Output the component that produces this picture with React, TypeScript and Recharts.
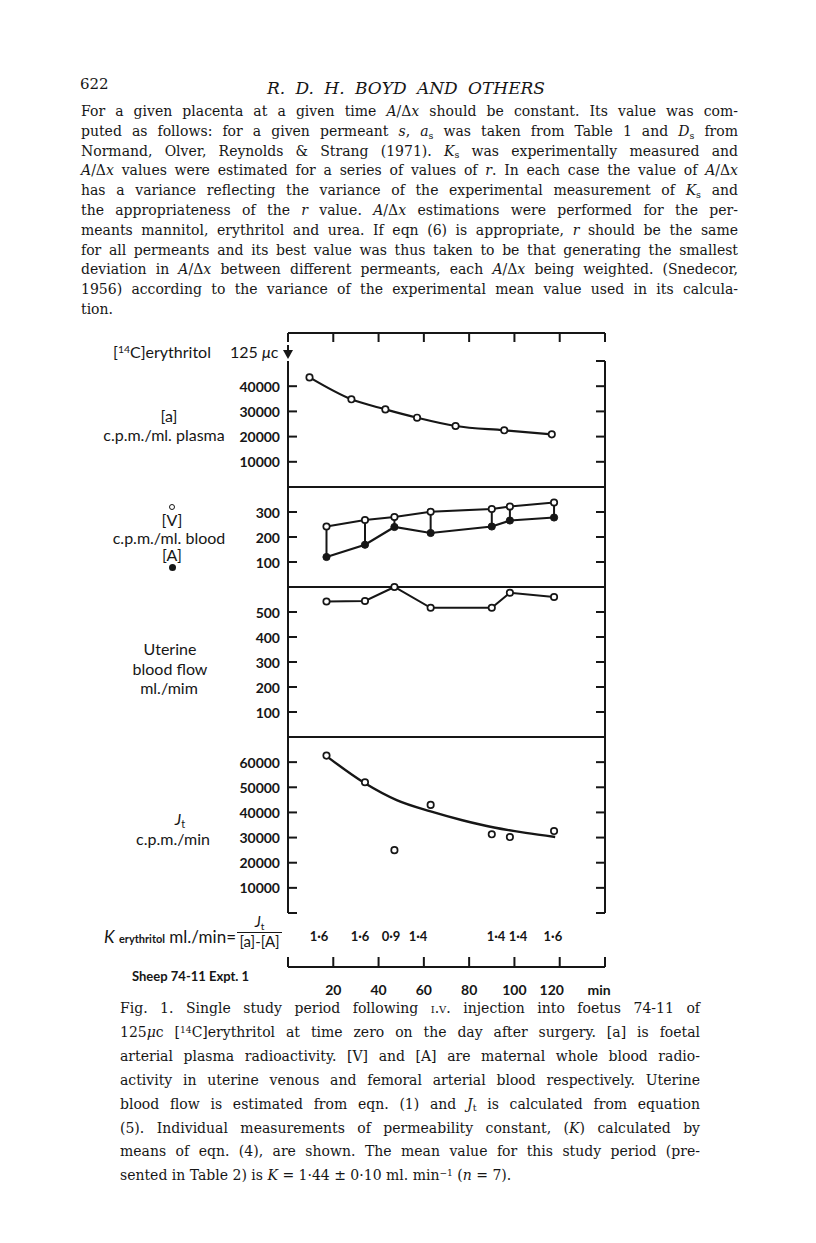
import React from 'react';
import { ComposedChart, Line, XAxis, YAxis, ReferenceLine, ReferenceDot } from 'recharts';

// time axis, minutes after injection
const timeTicks = [0, 20, 40, 60, 80, 100, 120, 140];
const timeTickLabels = ['', '20', '40', '60', '80', '100', '120', 'min'];
const injectionTime = 0;

// [a] foetal arterial plasma, c.p.m./ml.
const plasmaTimes = [9.5, 28, 43, 57, 74, 95.5, 116.5];
const plasmaCpm = [43500, 34800, 30800, 27500, 24200, 22500, 20900];

// maternal samples
const sampleTimes = [17, 34, 47, 63, 90, 98, 117.5];
const venousCpm = [242, 268, 280, 301, 312, 322, 338];
const arterialCpm = [120, 169, 240, 216, 242, 266, 278];
const uterineFlow = [542, 544, 600, 517, 517, 577, 560];
const jtCpm = [62600, 52000, 25000, 43000, 31300, 30200, 32600];

// smooth curve drawn through the Jt points
const jtCurveTimes = [18, 34, 48, 63, 77, 91, 105, 118];
const jtCurveCpm = [61700, 51600, 44900, 40400, 36900, 34000, 31850, 30250];

// K values printed under the panels
const kLabelTimes = [13.7, 31.8, 45.5, 57.4, 91.9, 101.6, 117];
const kValues = ['1·6', '1·6', '0·9', '1·4', '1·4', '1·4', '1·6'];

const plasmaTicks = [10000, 20000, 30000, 40000];
const plasmaRightTicks = [10000, 20000, 30000, 40000, 50000];
const bloodTicks = [100, 200, 300];
const flowTicks = [100, 200, 300, 400, 500];
const jtTicks = [0, 10000, 20000, 30000, 40000, 50000, 60000];

const plasmaData = plasmaTimes.map((t, i) => ({ t, v: plasmaCpm[i] }));
const venousData = sampleTimes.map((t, i) => ({ t, v: venousCpm[i] }));
const arterialData = sampleTimes.map((t, i) => ({ t, v: arterialCpm[i] }));
const flowData = sampleTimes.map((t, i) => ({ t, v: uterineFlow[i] }));
const jtData = sampleTimes.map((t, i) => ({ t, v: jtCpm[i] }));
const jtCurveData = jtCurveTimes.map((t, i) => ({ t, v: jtCurveCpm[i] }));

const SERIF = '"DejaVu Serif", serif';
const SANS = 'Lato, "Open Sans", sans-serif';
const INK = '#161616';
const PAGE_W = 816;
const PLOT_L = 288;
const PLOT_R = 605;
const AXIS = { stroke: INK, strokeWidth: 2 };

const openDot = { r: 3.2, stroke: INK, strokeWidth: 1.7, fill: '#fff' };
const solidDot = { r: 3.6, stroke: INK, strokeWidth: 1, fill: INK };

const LeftTick = (p: any) => {
  const { x, y, payload } = p;
  return (
    <g>
      <line x1={x} x2={x + 9} y1={y} y2={y} stroke={INK} strokeWidth={2} />
      {payload.value !== 0 && (
        <text x={x - 8} y={y} textAnchor="end" dominantBaseline="central" fontFamily={SANS} fontWeight={700} fontSize={14} fill={INK}>
          {payload.value}
        </text>
      )}
    </g>
  );
};

const RightTick = (p: any) => {
  const { x, y } = p;
  return <line x1={x} x2={x - 9} y1={y} y2={y} stroke={INK} strokeWidth={2} />;
};

const TopTick = (p: any) => {
  const { x, y } = p;
  return <line x1={x} x2={x} y1={y} y2={y + 9} stroke={INK} strokeWidth={2} />;
};

const BottomTick = (p: any) => {
  const { x, y, payload, index } = p;
  const dx = payload.value === 120 ? -8 : payload.value === 140 ? -6 : 0;
  return (
    <g>
      <line x1={x} x2={x} y1={y} y2={y - 10} stroke={INK} strokeWidth={2} />
      <text x={x + dx} y={y + 22} textAnchor="middle" dominantBaseline="central" fontFamily={SANS} fontWeight={700} fontSize={14} fill={INK}>
        {timeTickLabels[index]}
      </text>
    </g>
  );
};

const KTick = (p: any) => {
  const { x, y, index } = p;
  return (
    <text x={x} y={y} textAnchor="middle" dominantBaseline="central" fontFamily={SANS} fontWeight={700} fontSize={13} fill={INK}>
      {kValues[index]}
    </text>
  );
};

const Arrow = (p: any) => {
  const { cx, cy } = p;
  const tip = cy - 1;
  return (
    <g>
      <line x1={cx} x2={cx} y1={tip - 14} y2={tip - 6} stroke={INK} strokeWidth={2} />
      <path d={`M${cx - 5},${tip - 9} L${cx + 5},${tip - 9} L${cx},${tip} Z`} fill={INK} />
    </g>
  );
};

type PanelProps = {
  top: number;
  bottom: number;
  domain: [number, number];
  leftTicks: number[];
  rightTicks: number[];
  baseLine?: boolean;
  children?: React.ReactNode;
};

const Panel = ({ top, bottom, domain, leftTicks, rightTicks, baseLine, children }: PanelProps) => {
  const m = 10;
  return (
    <div style={{ position: 'absolute', left: 0, top: top - m }}>
      <ComposedChart
        width={PAGE_W}
        height={bottom - top + 2 * m}
        margin={{ top: m, bottom: baseLine ? m - 1 : m, left: PLOT_L - 60, right: PAGE_W - PLOT_R - 12 }}
      >
        <XAxis type="number" dataKey="t" domain={[0, 140]} hide={!baseLine} height={1} tick={false} tickLine={false} axisLine={AXIS} />
        <YAxis yAxisId="l" orientation="left" type="number" domain={domain} ticks={leftTicks} interval={0} width={60}
          tickSize={0} tickMargin={0} tickLine={false} tick={LeftTick} axisLine={AXIS} />
        <YAxis yAxisId="r" orientation="right" type="number" domain={domain} ticks={rightTicks} interval={0} width={12}
          allowDataOverflow tickSize={0} tickMargin={0} tickLine={false} tick={RightTick} axisLine={AXIS} />
        {children}
      </ComposedChart>
    </div>
  );
};

const Sub = ({ children }: { children: React.ReactNode }) => (
  <span style={{ fontSize: '0.68em', position: 'relative', top: '0.3em' }}>{children}</span>
);
const Sup = ({ children }: { children: React.ReactNode }) => (
  <span style={{ fontSize: '0.65em', position: 'relative', top: '-0.45em' }}>{children}</span>
);
const Ax = () => (
  <>
    <i>A</i>/Δ<i>x</i>
  </>
);

const bodyLines: React.ReactNode[] = [
  <>For a given placenta at a given time <Ax /> should be constant. Its value was com-</>,
  <>puted as follows: for a given permeant <i>s</i>, <i>a</i><Sub>s</Sub> was taken from Table 1 and <i>D</i><Sub>s</Sub> from</>,
  <>Normand, Olver, Reynolds &amp; Strang (1971). <i>K</i><Sub>s</Sub> was experimentally measured and</>,
  <><Ax /> values were estimated for a series of values of <i>r</i>. In each case the value of <Ax /></>,
  <>has a variance reflecting the variance of the experimental measurement of <i>K</i><Sub>s</Sub> and</>,
  <>the appropriateness of the <i>r</i> value. <Ax /> estimations were performed for the per-</>,
  <>meants mannitol, erythritol and urea. If eqn (6) is appropriate, <i>r</i> should be the same</>,
  <>for all permeants and its best value was thus taken to be that generating the smallest</>,
  <>deviation in <Ax /> between different permeants, each <Ax /> being weighted. (Snedecor,</>,
  <>1956) according to the variance of the experimental mean value used in its calcula-</>,
  <>tion.</>,
];

const captionLines: React.ReactNode[] = [
  <>Fig. 1. Single study period following <span style={{ fontVariant: 'small-caps' }}>i.v.</span> injection into foetus 74-11 of</>,
  <>125<i>μ</i>c [<Sup>14</Sup>C]erythritol at time zero on the day after surgery. [a] is foetal</>,
  <>arterial plasma radioactivity. [V] and [A] are maternal whole blood radio-</>,
  <>activity in uterine venous and femoral arterial blood respectively. Uterine</>,
  <>blood flow is estimated from eqn. (1) and <i>J</i><Sub>t</Sub> is calculated from equation</>,
  <>(5). Individual measurements of permeability constant, (<i>K</i>) calculated by</>,
  <>means of eqn. (4), are shown. The mean value for this study period (pre-</>,
  <>sented in Table 2) is <i>K</i> = 1·44 ± 0·10 ml. min<Sup>−1</Sup> (<i>n</i> = 7).</>,
];

const TextLine = ({ x, y, w, last, children }: { x: number; y: number; w: number; last?: boolean; children: React.ReactNode }) => (
  <div
    style={{
      position: 'absolute', left: x, top: y - 10, width: w, height: 20, lineHeight: '20px',
      fontFamily: SERIF, fontSize: 14, color: INK,
      textAlign: last ? 'left' : 'justify', textAlignLast: last ? 'left' : 'justify',
    }}
  >
    {children}
  </div>
);

const Lbl = ({ x, y, children, size = 15, weight = 400, anchor = 'middle' }: { x: number; y: number; children: React.ReactNode; size?: number; weight?: number; anchor?: 'start' | 'middle' | 'end' }) => {
  const w = 240;
  const left = anchor === 'middle' ? x - w / 2 : anchor === 'start' ? x : x - w;
  return (
    <div
      style={{
        position: 'absolute', left, top: y - 10, width: w, height: 20, lineHeight: '20px',
        textAlign: anchor === 'middle' ? 'center' : anchor === 'start' ? 'left' : 'right',
        fontFamily: SANS, fontSize: size, fontWeight: weight, color: INK, whiteSpace: 'nowrap',
      }}
    >
      {children}
    </div>
  );
};

const App: React.FC = () => {
  return (
    <div style={{ position: 'absolute', left: 0, top: 0, width: PAGE_W, height: 1243, background: '#fff', overflow: 'hidden' }}>
      {/* page header and text */}
      <div style={{ position: 'absolute', left: 80, top: 74, fontFamily: SERIF, fontSize: 15, lineHeight: '20px', color: INK }}>622</div>
      <div
        style={{
          position: 'absolute', left: 267, top: 77, width: 278, lineHeight: '22px', fontFamily: SERIF, fontSize: 17,
          fontStyle: 'italic', color: INK, textAlign: 'justify', textAlignLast: 'justify',
        }}
      >
        R. D. H. BOYD AND OTHERS
      </div>
      {bodyLines.map((l, i) => (
        <TextLine key={i} x={81} y={111 + i * 19.8} w={657} last={i === bodyLines.length - 1}>
          {l}
        </TextLine>
      ))}

      {/* top time axis with injection arrow */}
      <div style={{ position: 'absolute', left: 0, top: 333 - 10 }}>
        <ComposedChart width={PAGE_W} height={27 + 20} data={timeTicks.map((t) => ({ t }))}
          margin={{ top: 9, bottom: 10, left: PLOT_L, right: PAGE_W - PLOT_R }}>
          <XAxis type="number" dataKey="t" orientation="top" domain={[0, 140]} ticks={timeTicks} interval={0} height={1}
            allowDataOverflow tickSize={0} tickMargin={0} tickLine={false} tick={TopTick} axisLine={AXIS} />
          <YAxis hide type="number" domain={[0, 1]} allowDataOverflow />
          <ReferenceDot x={injectionTime} y={0} ifOverflow="visible" shape={Arrow} />
        </ComposedChart>
      </div>

      {/* [a] plasma */}
      <Panel top={361} bottom={487} domain={[0, 50000]} leftTicks={plasmaTicks} rightTicks={plasmaRightTicks} baseLine>
        <Line yAxisId="l" data={plasmaData} dataKey="v" type="monotone" stroke={INK} strokeWidth={2.2} dot={openDot} isAnimationActive={false} />
      </Panel>

      {/* [V] and [A] */}
      <Panel top={487} bottom={587} domain={[0, 400]} leftTicks={bloodTicks} rightTicks={bloodTicks} baseLine>
        {sampleTimes.map((t, i) => (
          <ReferenceLine key={i} yAxisId="l" segment={[{ x: t, y: arterialCpm[i] }, { x: t, y: venousCpm[i] }]} stroke={INK} strokeWidth={2} />
        ))}
        <Line yAxisId="l" data={arterialData} dataKey="v" stroke={INK} strokeWidth={2.2} dot={solidDot} isAnimationActive={false} />
        <Line yAxisId="l" data={venousData} dataKey="v" stroke={INK} strokeWidth={2.2} dot={openDot} isAnimationActive={false} />
      </Panel>

      {/* uterine blood flow */}
      <Panel top={587} bottom={737} domain={[0, 600]} leftTicks={flowTicks} rightTicks={flowTicks} baseLine>
        <Line yAxisId="l" data={flowData} dataKey="v" stroke={INK} strokeWidth={2} dot={openDot} isAnimationActive={false} />
      </Panel>

      {/* Jt */}
      <Panel top={737} bottom={913} domain={[0, 70000]} leftTicks={jtTicks} rightTicks={jtTicks}>
        <Line yAxisId="l" data={jtCurveData} dataKey="v" type="monotone" stroke={INK} strokeWidth={2.4} dot={false} isAnimationActive={false} />
        <Line yAxisId="l" data={jtData} dataKey="v" stroke="none" strokeWidth={0} dot={openDot} isAnimationActive={false} />
      </Panel>

      {/* K row and bottom time axis */}
      <div style={{ position: 'absolute', left: 0, top: 936 - 10 }}>
        <ComposedChart width={PAGE_W} height={31 + 10 + 34} data={timeTicks.map((t) => ({ t }))}
          margin={{ top: 9, bottom: 33, left: PLOT_L, right: PAGE_W - PLOT_R }}>
          <XAxis xAxisId="k" type="number" dataKey="t" orientation="top" domain={[0, 140]} ticks={kLabelTimes} interval={0} height={1}
            allowDataOverflow tickSize={0} tickMargin={0} tickLine={false} tick={KTick} axisLine={false} />
          <XAxis xAxisId="time" type="number" dataKey="t" orientation="bottom" domain={[0, 140]} ticks={timeTicks} interval={0} height={1}
            allowDataOverflow tickSize={0} tickMargin={0} tickLine={false} tick={BottomTick} axisLine={AXIS} />
          <YAxis hide type="number" domain={[0, 1]} allowDataOverflow />
        </ComposedChart>
      </div>

      {/* left-hand labels */}
      <Lbl x={113} y={352} anchor="start" size={16}>[<Sup>14</Sup>C]erythritol</Lbl>
      <Lbl x={230} y={352} anchor="start" size={16}>125 <i>μ</i>c</Lbl>
      <Lbl x={169} y={416} size={16}>[a]</Lbl>
      <Lbl x={164} y={435} size={16}>c.p.m./ml. plasma</Lbl>

      <div style={{ position: 'absolute', left: 169, top: 504, width: 6, height: 6, borderRadius: '50%', border: `1.5px solid ${INK}`, boxSizing: 'border-box' }} />
      <Lbl x={172} y={520} size={16}>[V]</Lbl>
      <Lbl x={169} y={538} size={16}>c.p.m./ml. blood</Lbl>
      <Lbl x={172} y={555} size={16}>[A]</Lbl>
      <div style={{ position: 'absolute', left: 168.5, top: 563.5, width: 7, height: 7, borderRadius: '50%', background: INK }} />

      <Lbl x={170} y={649} size={16}>Uterine</Lbl>
      <Lbl x={170} y={669} size={16}>blood flow</Lbl>
      <Lbl x={169} y={688} size={16}>ml./mim</Lbl>

      <Lbl x={180} y={819} size={16}><i>J</i><Sub>t</Sub></Lbl>
      <Lbl x={173} y={839} size={16}>c.p.m./min</Lbl>

      <Lbl x={236} y={937} anchor="end" size={17}>
        <i>K</i> <span style={{ fontSize: 11, fontWeight: 700 }}>erythritol</span> ml./min=
      </Lbl>
      <div style={{ position: 'absolute', left: 237, top: 913, width: 45, fontFamily: SANS, fontSize: 15, color: INK, textAlign: 'center', lineHeight: '17px' }}>
        <div><i>J</i><Sub>t</Sub></div>
        <div style={{ borderTop: `1.5px solid ${INK}` }}>[a]-[A]</div>
      </div>
      <Lbl x={132} y={976} anchor="start" size={13} weight={700}>Sheep 74-11 Expt. 1</Lbl>

      {/* caption */}
      {captionLines.map((l, i) => (
        <TextLine key={i} x={120} y={1008 + i * 23.9} w={580} last={i === captionLines.length - 1}>
          {l}
        </TextLine>
      ))}
    </div>
  );
};

export default App;
